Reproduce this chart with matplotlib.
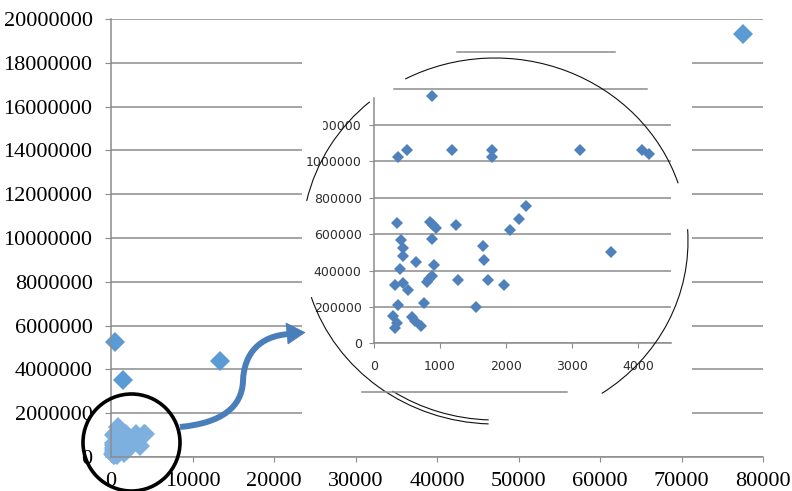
import matplotlib
matplotlib.use("Agg")
import matplotlib.pyplot as plt
from matplotlib.patches import Rectangle, Circle, Arc, PathPatch, Polygon
from matplotlib.path import Path
from matplotlib.lines import Line2D
from matplotlib.transforms import IdentityTransform, Bbox

# outliers of the full chart
main_x = [490, 1430, 13400, 77600]
main_y = [5260000, 3520000, 4400000, 19300000]

# the small values, shown enlarged in the circle
zoom_x = [874, 368, 505, 1180, 1792, 1792, 3121, 4065, 4171,
          343, 848, 894, 939, 1237, 2061, 2197, 2303,
          409, 874, 444, 444, 1647, 1667, 636, 914, 389,
          874, 836, 798, 1268, 1722, 1970, 318, 444, 520,
          371, 758, 1541, 3596,
          293, 343, 318, 571, 621, 712]
zoom_y = [1360000, 1025000, 1062000, 1062000, 1064000, 1022000, 1062000, 1062000, 1040000,
          660000, 668000, 650000, 635000, 648000, 622000, 683000, 754000,
          567000, 575000, 522000, 480000, 536000, 458000, 445000, 430000, 406000,
          370000, 354000, 338000, 346000, 348000, 320000, 320000, 330000, 293000,
          210000, 223000, 201000, 500000,
          150000, 110000, 82000, 146000, 124000, 97000]

main_xticks = list(range(0, 80001, 10000))
main_yticks = list(range(0, 20000001, 2000000))
zoom_xticks = [0, 1000, 2000, 3000, 4000]
zoom_yticks = [0, 200000, 400000, 600000, 800000, 1000000, 1200000]
zoom_extra_grid = [1400000, 1600000]

W, H = 792, 491
GRID = "#8c8c8c"
ARROW = "#4A7EBB"
PX = IdentityTransform()

fig = plt.figure(figsize=(W / 100, H / 100), dpi=100)

# ---- main chart
ax = fig.add_axes([111 / W, (H - 457) / H, 652 / W, 438 / H])
ax.plot(main_x, main_y, "D", ms=10, color="#5B9BD5", mew=0, clip_on=False)
ax.plot(zoom_x, zoom_y, "D", ms=10.5, color="#7DB0DF", mew=0, clip_on=False)
ax.set_xlim(0, 80000)
ax.set_ylim(0, 20000000)
ax.set_xticks(main_xticks, [str(v) for v in main_xticks])
ax.set_yticks(main_yticks, [str(v) for v in main_yticks])
ax.grid(axis="y", color=GRID, lw=1.1)
ax.set_axisbelow(True)
for s in ["top", "right"]:
    ax.spines[s].set_visible(False)
for s in ["left", "bottom"]:
    ax.spines[s].set_color(GRID)
    ax.spines[s].set_linewidth(1.1)
ax.tick_params(axis="y", length=4.3, color=GRID, labelsize=16, pad=9,
               labelfontfamily="Liberation Serif")
ax.tick_params(axis="x", length=3.6, color=GRID, labelsize=16, pad=7,
               labelfontfamily="Liberation Serif")

# white cut-out behind the magnified view
fig.add_artist(Rectangle((302, H - 440), 390, 412, transform=PX,
                         fc="white", ec="none", zorder=1))

# ---- magnified view
ax_in = fig.add_axes([374 / W, (H - 343.3) / H, 297 / W, 300.3 / H])
ax_in.set_zorder(2)
ax_in.set_facecolor("none")
ax_in.plot(zoom_x, zoom_y, "D", ms=6, color="#4F81BD", mew=0, clip_on=False)
ax_in.set_xlim(0, 4500)
ax_in.set_ylim(0, 1650000)
ax_in.set_xticks(zoom_xticks, [str(v) for v in zoom_xticks])
ax_in.set_yticks(zoom_yticks, [str(v) for v in zoom_yticks])
ax_in.grid(axis="y", color=GRID, lw=1.1)
ax_in.axhline(zoom_extra_grid[0], 0.067, 0.919, color=GRID, lw=1.1)
ax_in.axhline(zoom_extra_grid[1], 0.279, 0.811, color=GRID, lw=1.1)
ax_in.set_axisbelow(True)
for s in ["top", "right"]:
    ax_in.spines[s].set_visible(False)
for s in ["left", "bottom"]:
    ax_in.spines[s].set_color(GRID)
    ax_in.spines[s].set_linewidth(1.1)
ax_in.spines["left"].set_bounds(0, 1350000)
ax_in.tick_params(axis="x", length=3.6, color=GRID, labelsize=9, pad=8.6,
                  labelcolor="#2e2e2e")
ax_in.tick_params(axis="y", length=3.6, color=GRID, labelsize=9, pad=5.3,
                  labelcolor="#2e2e2e")
for lab in ax_in.get_yticklabels():
    if lab.get_text() == "1200000":
        lab.set_clip_box(Bbox.from_extents(323, 0, W, H))

# broken outline of the magnifier
for t1, t2 in [(132, 168), (17.5, 119), (-55, 3.5), (197, 268)]:
    fig.add_artist(Arc((495, 250), 386, 366, theta1=t1, theta2=t2,
                       transform=PX, color="#111111", lw=0.8, zorder=3))
fig.add_artist(Arc((495, 252), 378, 362, theta1=236, theta2=268,
                   transform=PX, color="#111111", lw=0.8, zorder=3))
fig.add_artist(Line2D([362, 567], [H - 392, H - 392], transform=PX,
                      color=GRID, lw=1.1, zorder=3))

# circle round the cluster and the arrow to the magnified view
fig.add_artist(Circle((131.5, H - 442.5), 48.5, transform=PX, fill=False,
                      ec="black", lw=2.6, zorder=4))
verts = [(180, 64), (222, 68), (242, 84), (243, 110),
         (244, 138), (260, 155), (289, 157)]
codes = [Path.MOVETO] + [Path.CURVE4] * 6
fig.add_artist(PathPatch(Path(verts, codes), fill=False, ec=ARROW, lw=4.3,
                         capstyle="butt", transform=PX, zorder=4))
fig.add_artist(Polygon([(305, 158.5), (286, 168), (288, 147)], closed=True,
                       fc=ARROW, ec=ARROW, lw=0.5, transform=PX, zorder=4))

fig.savefig("out.png", dpi=100)
